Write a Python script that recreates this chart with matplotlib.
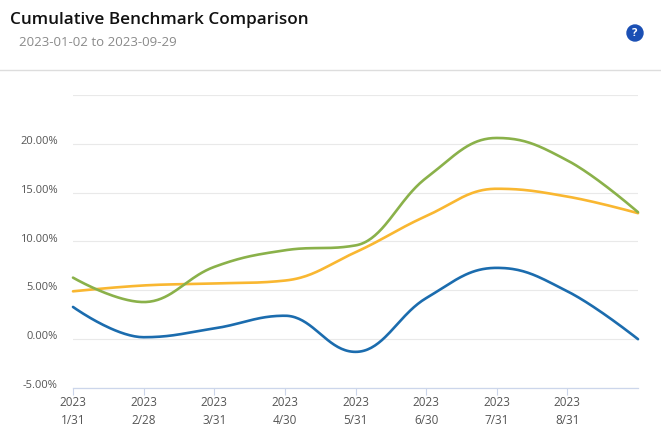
import numpy as np
import matplotlib
matplotlib.use("Agg")
import matplotlib.pyplot as plt
from matplotlib.patches import Circle
from matplotlib.lines import Line2D

# month-end points, the last one is 9/29 (not labelled)
years = ["2023"] * 8
months = ["1/31", "2/28", "3/31", "4/30", "5/31", "6/30", "7/31", "8/31"]
n_points = 9

blue = [3.3, 0.2, 1.1, 2.4, -1.3, 4.2, 7.3, 4.9, 0.0]
orange = [4.9, 5.5, 5.7, 6.0, 8.9, 12.6, 15.4, 14.6, 12.9]
green = [6.3, 3.8, 7.4, 9.1, 9.6, 16.5, 20.6, 18.3, 13.0]

yticks = [-5, 0, 5, 10, 15, 20]


# spline like Highcharts (bezier with smoothing 1.5)
def spline(xs, ys, steps=40):
    n = len(xs)
    lc = [None] * n
    rc = [None] * n
    sm = 1.5
    den = sm + 1
    for i in range(1, n - 1):
        px, py = xs[i], ys[i]
        lx, ly = xs[i - 1], ys[i - 1]
        nx_, ny = xs[i + 1], ys[i + 1]
        lcx = (sm * px + lx) / den
        lcy = (sm * py + ly) / den
        rcx = (sm * px + nx_) / den
        rcy = (sm * py + ny) / den
        corr = (rcy - lcy) * (rcx - px) / (rcx - lcx) + py - rcy
        lcy += corr
        rcy += corr
        if lcy > ly and lcy > py:
            lcy = max(ly, py)
            rcy = 2 * py - lcy
        elif lcy < ly and lcy < py:
            lcy = min(ly, py)
            rcy = 2 * py - lcy
        if rcy > ny and rcy > py:
            rcy = max(ny, py)
            lcy = 2 * py - rcy
        elif rcy < ny and rcy < py:
            rcy = min(ny, py)
            lcy = 2 * py - rcy
        lc[i] = (lcx, lcy)
        rc[i] = (rcx, rcy)
    out_x, out_y = [xs[0]], [ys[0]]
    t = np.linspace(0, 1, steps)[1:]
    for i in range(1, n):
        p0 = (xs[i - 1], ys[i - 1])
        p1 = rc[i - 1] if rc[i - 1] else p0
        p3 = (xs[i], ys[i])
        p2 = lc[i] if lc[i] else p3
        bx = ((1 - t) ** 3 * p0[0] + 3 * (1 - t) ** 2 * t * p1[0]
              + 3 * (1 - t) * t ** 2 * p2[0] + t ** 3 * p3[0])
        by = ((1 - t) ** 3 * p0[1] + 3 * (1 - t) ** 2 * t * p1[1]
              + 3 * (1 - t) * t ** 2 * p2[1] + t ** 3 * p3[1])
        out_x.extend(bx)
        out_y.extend(by)
    return out_x, out_y


W, H = 661, 445
fig = plt.figure(figsize=(W / 100, H / 100), dpi=100)
plt.rcParams['font.family'] = ['Open Sans', 'DejaVu Sans']

left, right = 73 / W, 638 / W
bottom, top = 1 - 388 / H, 1 - 95 / H
ax = fig.add_axes([left, bottom, right - left, top - bottom])

x = list(range(n_points))
for ys, col in [(blue, "#1b6cae"), (orange, "#f9b731"), (green, "#8ab14a")]:
    sx, sy = spline(x, ys)
    ax.plot(sx, sy, color=col, lw=1.9, solid_capstyle="round", clip_on=False)

ax.set_xlim(0, n_points - 1)
ax.set_ylim(-5, 25)
ax.set_yticks(yticks + [25])
ax.set_yticklabels([f"{v:.2f}%" for v in yticks] + [""])
ax.yaxis.grid(True, color="#e9e9e9", lw=0.8)
ax.set_axisbelow(True)
for s in ["top", "right", "left"]:
    ax.spines[s].set_visible(False)
ax.spines["bottom"].set_color("#ccd6eb")
ax.spines["bottom"].set_linewidth(0.9)
ax.tick_params(axis="y", length=0, labelsize=8, labelcolor="#555555", pad=11)
for lab in ax.get_yticklabels():
    lab.set_verticalalignment("baseline")
ax.set_xticks(range(len(months)))
ax.set_xticklabels([f"{y}\n{m}" for y, m in zip(years, months)],
                   linespacing=1.55)
ax.tick_params(axis="x", length=5, color="#ccd6eb", labelsize=8.5,
               labelcolor="#555555", pad=0.5)

# header
fig.text(10 / W, 1 - 20 / H, "Cumulative Benchmark Comparison", fontsize=12.3,
         fontweight="semibold", color="#111111", va="center", ha="left")
fig.text(19 / W, 1 - 43 / H, "2023-01-02 to 2023-09-29", fontsize=9.5,
         color="#8a8a8a", va="center", ha="left")
fig.add_artist(Line2D([0, 1], [1 - 70 / H, 1 - 70 / H], color="#dddddd",
                      lw=1, transform=fig.transFigure))
fig.add_artist(Circle((6.35, (H - 33) / 100), 0.08, color="#1a4fb4",
                      transform=fig.dpi_scale_trans))
fig.text(635 / W, 1 - 33.5 / H, "?", fontsize=8, fontweight="bold",
         color="white", ha="center", va="center")

fig.savefig("out.png", dpi=100)
